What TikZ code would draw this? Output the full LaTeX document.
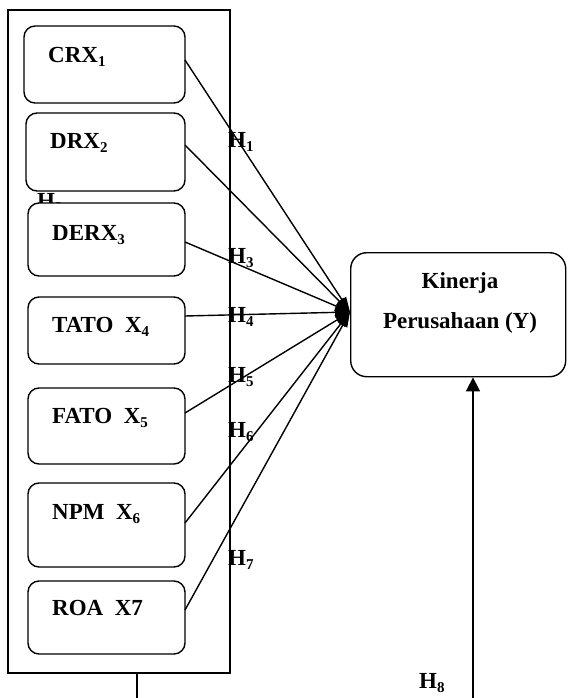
\documentclass[tikz,border=0pt]{standalone}
\usepackage{fontspec}
\setmainfont{Liberation Serif}
\usetikzlibrary{arrows.meta}
\newcommand\subx[1]{\raisebox{-4pt}{\fontsize{15}{15}\selectfont #1}}
\begin{document}
\begin{tikzpicture}[x=1pt,y=-1pt,
  every node/.style={font=\fontsize{23}{27}\selectfont\bfseries, inner sep=0pt},
  vbox/.style={draw, line width=1.4pt, rounded corners=11pt, fill=white},
  conn/.style={line width=1.4pt, -{Triangle[length=15pt,width=10pt]}},
  lbl/.style={anchor=base west}]
\useasboundingbox (0,0) rectangle (567,698);
% outer frame
\draw[line width=1.4pt] (8,10) rectangle (230,673);
\coordinate (conv) at (350,312);
% H2 (partly hidden)
\node[lbl] (h2) at (37,208) {H\subx{2}};
% boxes
\draw[vbox] (24,26) rectangle (185,103);
\draw[vbox] (26,113) rectangle (185,191);
\draw[vbox] (28,203) rectangle (185,276);
\draw[vbox] (28,297) rectangle (185,364);
\draw[vbox] (28,388) rectangle (185,464);
\draw[vbox] (28,483) rectangle (185,567);
\draw[vbox] (28,581) rectangle (185,654);
\coordinate (c1) at (185,60);
\coordinate (c2) at (185,145);
\coordinate (c3) at (185,242);
\coordinate (c4) at (185,316);
\coordinate (c5) at (185,413);
\coordinate (c6) at (185,523);
\coordinate (c7) at (185,610);
\node[lbl] (t1) at (48,63) {CRX\subx{1}};
\node[lbl] (t2) at (50,148) {DRX\subx{2}};
\node[lbl] (t3) at (52,240) {DERX\subx{3}};
\node[lbl] (t4) at (52,332) {TATO\ \ X\subx{4}};
\node[lbl] (t5) at (52,423) {FATO\ \ X\subx{5}};
\node[lbl] (t6) at (52,519) {NPM\ \ X\subx{6}};
\node[lbl] (t7) at (52,615) {ROA\ \ X7};
% target
\node[draw, line width=1.4pt, rounded corners=16pt, minimum width=215pt, minimum height=124pt, anchor=north west] (Y) at (350,252) {};
\node (k1) at (460,283) {Kinerja};
\node (k2) at (460,323) {Perusahaan (Y)};
% connectors
\foreach \i in {1,...,7} \draw[conn] (c\i) -- (conv);
% labels
\node[lbl] (h1) at (228,147) {H\subx{1}};
\node[lbl] (h3) at (228,263) {H\subx{3}};
\node[lbl] (h4) at (228,322) {H\subx{4}};
\node[lbl] (h5) at (228,382) {H\subx{5}};
\node[lbl] (h6) at (228,437) {H\subx{6}};
\node[lbl] (h7) at (228,565) {H\subx{7}};
\node[lbl] (h8) at (419,688) {H\subx{8}};
% bottom lines
\coordinate (b1) at (137,673);
\coordinate (b2) at (137,698);
\draw[line width=1.4pt] (b1) -- (b2);
\coordinate (b3) at (473,698);
\draw[line width=1.5pt, -{Triangle[length=14pt,width=14pt]}] (b3) -- (Y.south -| b3);
\end{tikzpicture}
\end{document}
